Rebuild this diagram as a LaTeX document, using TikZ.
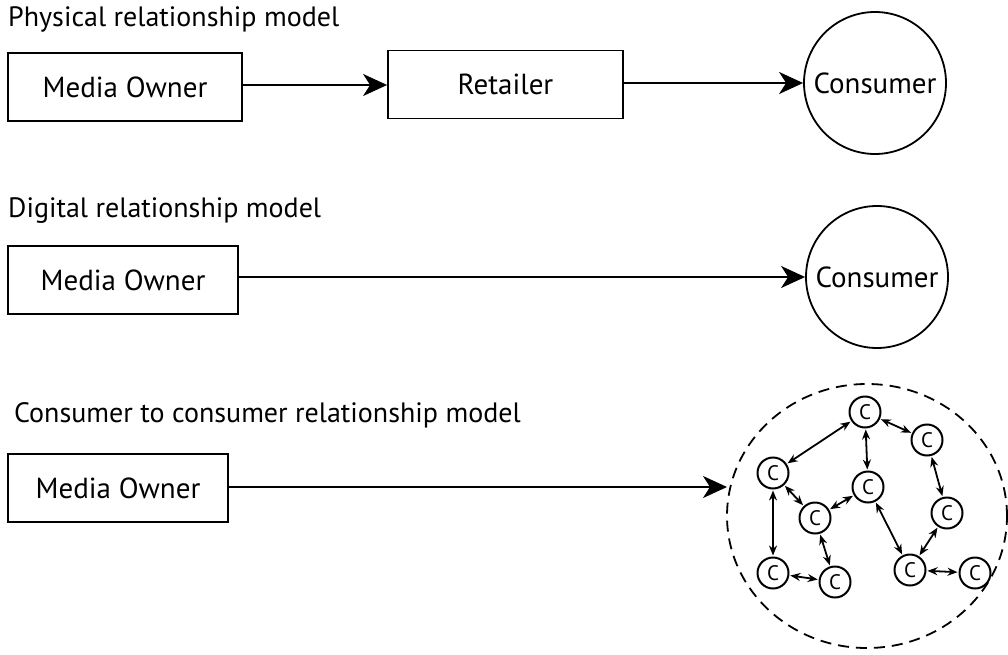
\documentclass[tikz,border=0pt]{standalone}
\usepackage{fontspec}
\setmainfont{PT Sans}
\usetikzlibrary{arrows.meta}
\begin{document}
\begin{tikzpicture}[x=1pt,y=-1pt,
  title/.style={anchor=base west,inner sep=0pt,font=\fontsize{28}{32}\selectfont},
  ownerbox/.style={draw,line width=1.8pt,minimum height=68pt,inner sep=0pt,font=\fontsize{29}{33}\selectfont},
  bigcircle/.style={draw,circle,line width=1.8pt,minimum size=142pt,inner sep=0pt,font=\fontsize{29}{33}\selectfont},
  smallc/.style={draw,circle,line width=2pt,minimum size=31pt,inner sep=0pt,font=\fontsize{21}{23}\selectfont},
  flow/.style={line width=1.8pt,-{Stealth[length=24pt,width=22pt,inset=7pt]}},
  link/.style={line width=1.8pt,{Stealth[length=10pt,width=8pt]}-{Stealth[length=10pt,width=8pt]},shorten <=1pt,shorten >=1pt}]
\useasboundingbox (0,0) rectangle (1008,655);

% physical model
\node[title] (t1) at (8,27) {Physical relationship model};
\node[ownerbox,minimum width=234pt] (mo1) at (125,87) {Media Owner};
\node[ownerbox,minimum width=235pt] (ret) at (505.5,84.5) {Retailer};
\node[bigcircle] (con1) at (875,83) {Consumer};
\draw[flow] (mo1.east |- 0,85) -- (ret.west |- 0,85);
\draw[flow] (ret.east |- 0,83) -- (con1.west);

% digital model
\node[title] (t2) at (8,217) {Digital relationship model};
\node[ownerbox,minimum width=230pt] (mo2) at (123,280) {Media Owner};
\node[bigcircle] (con2) at (877,277) {Consumer};
\draw[flow] (mo2.east |- con2.west) -- (con2.west);

% consumer to consumer model
\node[title] (t3) at (14,422) {Consumer to consumer relationship model};
\node[ownerbox,minimum width=220pt] (mo3) at (118,488) {Media Owner};
\draw[dashed,dash pattern=on 11pt off 7pt,line width=1.8pt] (867,516) ellipse [x radius=140pt,y radius=132pt];
\coordinate (net) at (727,487);
\draw[flow] (mo3.east |- net) -- (net);

\node[smallc] (c1) at (865,412) {C};
\node[smallc] (c2) at (927,440) {C};
\node[smallc] (c3) at (773,473) {C};
\node[smallc] (c4) at (868,487) {C};
\node[smallc] (c5) at (815,518) {C};
\node[smallc] (c6) at (947,513) {C};
\node[smallc] (c7) at (773,573) {C};
\node[smallc] (c8) at (835,582) {C};
\node[smallc] (c9) at (910,570) {C};
\node[smallc] (c10) at (975,573) {C};

\draw[link] (c1) -- (c3);
\draw[link] (c1) -- (c4);
\draw[link] (c1) -- (c2);
\draw[link] (c2) -- (c6);
\draw[link] (c3) -- (c5);
\draw[link] (c3) -- (c7);
\draw[link] (c4) -- (c5);
\draw[link] (c4) -- (c9);
\draw[link] (c5) -- (c8);
\draw[link] (c6) -- (c9);
\draw[link] (c7) -- (c8);
\draw[link] (c9) -- (c10);
\end{tikzpicture}
\end{document}
